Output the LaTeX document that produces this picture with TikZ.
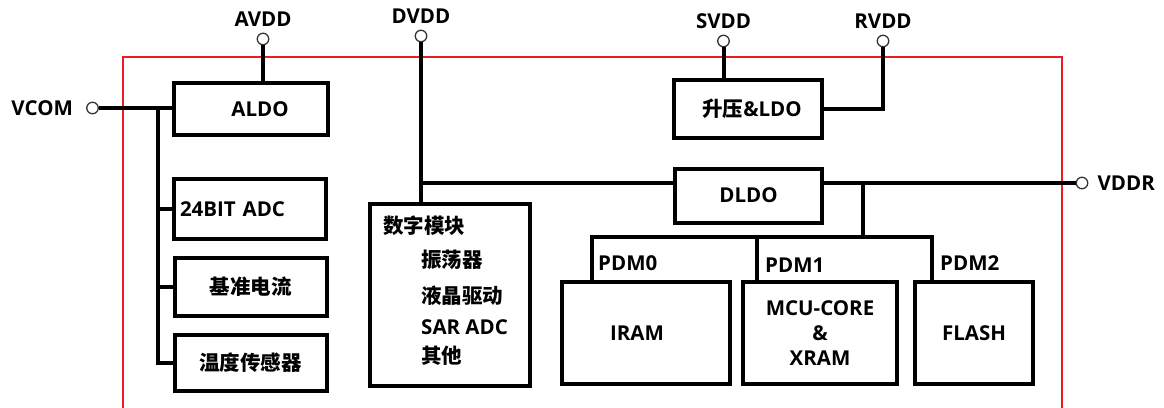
\documentclass[tikz,border=0pt]{standalone}
\usepackage{fontspec}
\setmainfont{Open Sans}
\newfontfamily\cjk{Noto Sans CJK SC}
\usetikzlibrary{positioning}
\definecolor{framered}{RGB}{237,28,36}

\begin{document}
\begin{tikzpicture}[x=1pt,y=-1pt,
  font=\fontsize{20.5}{24}\selectfont\bfseries,
  blk/.style={draw,line width=4pt,inner sep=0pt,outer sep=0pt},
  wire/.style={line width=4pt},
  pin/.style={circle,draw=black!80,line width=1.3pt,fill=white,minimum size=11.5pt,inner sep=0pt},
  lbl/.style={inner sep=0pt}]
\clip (0,0) rectangle (1164,407);
\draw[framered,line width=1.4pt] (123,57) rectangle (1062,420);

\node[blk,minimum width=154pt,minimum height=52pt] (aldo) at (251,109) {\hspace*{18pt}ALDO};
\node[blk,minimum width=152pt,minimum height=60pt,text width=140pt,align=left] (adc) at (250,209) {24BIT ADC};
\node[blk,minimum width=152pt,minimum height=58.5pt] (ref) at (250.5,287) {\cjk 基准电流};
\node[blk,minimum width=152pt,minimum height=56pt] (temp) at (250.5,362.5) {\cjk 温度传感器};
\node[blk,minimum width=160pt,minimum height=181.5pt] (dig) at (450,295) {};
\node[blk,minimum width=147.5pt,minimum height=58.5pt] (boost) at (748,109) {\hspace*{8pt}{\cjk 升压}\&LDO};
\node[blk,minimum width=147pt,minimum height=54pt] (dldo) at (748.5,195.5) {DLDO};
\node[blk,minimum width=168pt,minimum height=101.5pt] (iram) at (646,333) {IRAM\hspace*{18pt}};
\node[blk,minimum width=153.5pt,minimum height=101.5pt,align=center,font=\fontsize{20.5}{25}\selectfont\bfseries] (mcu) at (820,333) {MCU-CORE\\\&\\XRAM};
\node[blk,minimum width=118pt,minimum height=101.5pt] (flash) at (974,333) {FLASH};

\node[lbl,anchor=west] (dig0) at (383,226) {\cjk 数字模块};
\node[lbl,anchor=west] (dig1) at (421,260) {\cjk 振荡器};
\node[lbl,anchor=west] (dig2) at (421,296) {\cjk 液晶驱动};
\node[lbl,anchor=west] (dig3) at (421,327) {SAR ADC};
\node[lbl,anchor=west] (dig4) at (421,356) {\cjk 其他};

\node[lbl,anchor=west] (pdm0) at (598,263) {PDM0};
\node[lbl,anchor=west] (pdm1) at (765,265) {PDM1};
\node[lbl,anchor=west] (pdm2) at (940,263) {PDM2};

\node[pin] (tavdd) at (263,39) {};
\node[pin] (tvcom) at (92.5,108) {};
\node[pin] (tdvdd) at (421,36) {};
\node[pin] (tsvdd) at (723.5,41) {};
\node[pin] (trvdd) at (883,41) {};
\node[pin] (tvddr) at (1082,183) {};
\node[lbl,above=6pt of tavdd] (avdd) {AVDD};
\node[lbl,above=6pt of tdvdd] (dvdd) {DVDD};
\node[lbl,above=6pt of tsvdd] (svdd) {SVDD};
\node[lbl,above=6pt of trvdd] (rvdd) {RVDD};
\node[lbl,left=13pt of tvcom] (vcom) {VCOM};
\node[lbl,right=9pt of tvddr] (vddr) {VDDR};

\coordinate (bus) at (158,108);
\coordinate (jd) at (421,183);
\coordinate (tap) at (863,183);
\coordinate (s0) at (592,237);
\coordinate (s1) at (757,237);
\coordinate (s2) at (932,237);

\draw[wire] (tavdd) -- (tavdd |- aldo.north);
\draw[wire] (tvcom) -- (tvcom -| aldo.west);
\draw[wire] (bus) |- (temp.west);
\draw[wire] (bus |- adc.west) -- (adc.west);
\draw[wire] (bus |- ref.west) -- (ref.west);
\draw[wire] (tdvdd) -- (tdvdd |- dig.north);
\draw[wire] (jd) -- (jd -| dldo.west);
\draw[wire] (dldo.east |- tvddr) -- (tvddr);
\draw[wire] (tap) -- (tap |- s0);
\draw[wire] (s0 |- iram.north) -- (s0) -- (s2) -- (s2 |- flash.north);
\draw[wire] (s1) -- (s1 |- mcu.north);
\draw[wire] (tsvdd) -- (tsvdd |- boost.north);
\draw[wire] (trvdd) |- (boost.east);
\end{tikzpicture}
\end{document}
